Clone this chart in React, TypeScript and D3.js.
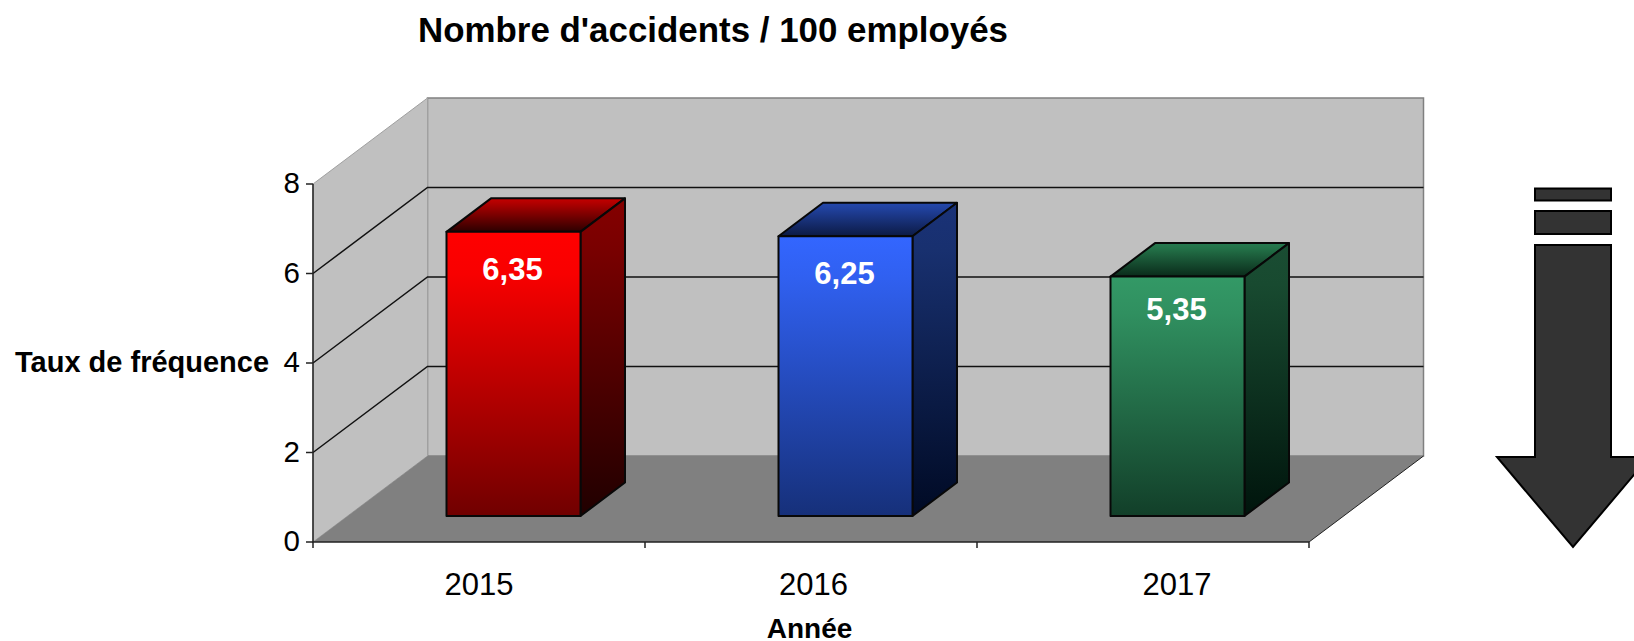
import React from "react";
import * as d3 from "d3";

const years = ["2015", "2016", "2017"];
const values = [6.35, 6.25, 5.35];
const valueLabels = ["6,35", "6,25", "5,35"];
const yTicks = [0, 2, 4, 6, 8];
const yearLabelShift = [0, 2.5, 34];
const labelDrop = [48, 48, 43];
const palettes = [
  { id: "r", face: ["#ff0000", "#f80000", "#700000"], side: ["#840000", "#7a0000", "#200000"], top: ["#c40000", "#b00000", "#2c0000"] },
  { id: "b", face: ["#3366ff", "#3060f0", "#16307a"], side: ["#1a3278", "#18306f", "#000a24"], top: ["#2448ac", "#2142a0", "#0c1a44"] },
  { id: "g", face: ["#339966", "#309060", "#123f29"], side: ["#1a4d33", "#184a30", "#00140c"], top: ["#267a50", "#237248", "#0a2a1a"] },
];

const W = 1634, H = 641;
const FONT = "'Liberation Sans', Arial, sans-serif";
const x0 = 313, x1 = 1309, y0 = 542, y8 = 184;
const DX = 114.5, DY = 86;
const y = d3.scaleLinear().domain([0, 8]).range([y0, y8]);
const x = d3.scaleBand<string>().domain(years).range([x0, x1]);
const barShiftX = 34.5, barShiftY = 26;
const barDepthX = 44.5, barDepthY = 33.5;
const barW = 134;

function grad(id: string, c: string[]) {
  return (
    <linearGradient id={id} x1="0" y1="0" x2="0" y2="1" key={id}>
      <stop offset="0" stopColor={c[0]} />
      <stop offset="0.15" stopColor={c[1]} />
      <stop offset="1" stopColor={c[2]} />
    </linearGradient>
  );
}

export default function App() {
  const line = d3.line<[number, number]>();
  const poly = (p: [number, number][]) => line(p) + "Z";
  return (
    <svg width={W} height={H} style={{ position: "absolute", left: 0, top: 0, display: "block" }} fontFamily={FONT}>
      <defs>
        {palettes.flatMap((p) => [grad(p.id + "f", p.face), grad(p.id + "s", p.side), grad(p.id + "t", p.top)])}
      </defs>
      <rect width={W} height={H} fill="#fff" />
      <text x={713} y={42} textAnchor="middle" fontSize={34.9} fontWeight="bold" fill="#000">Nombre d'accidents / 100 employés</text>

      {/* walls */}
      <path d={poly([[x0 + DX, y(8) - DY], [x1 + DX, y(8) - DY], [x1 + DX, y0 - DY], [x0 + DX, y0 - DY]])} fill="#c0c0c0" stroke="#808080" strokeWidth={1.5} />
      <path d={poly([[x0, y(8)], [x0 + DX, y(8) - DY], [x0 + DX, y0 - DY], [x0, y0]])} fill="#c0c0c0" stroke="#a0a0a0" strokeWidth={1} />
      <path d={poly([[x0, y0], [x1, y0], [x1 + DX, y0 - DY], [x0 + DX, y0 - DY]])} fill="#808080" />

      {/* grid */}
      {yTicks.filter((t) => t > 0 && t < 8).map((t) => (
        <path key={t} d={line([[x0, y(t)], [x0 + DX, y(t) - DY], [x1 + DX, y(t) - DY]])!} fill="none" stroke="#111" strokeWidth={1.5} />
      ))}

      {/* bars */}
      {values.map((v, i) => {
        const p = palettes[i];
        const fx = x(years[i])! + x.bandwidth() / 2 + barShiftX - barW / 2;
        const fb = y0 - barShiftY;
        const ft = y(v) - barShiftY;
        const dx = barDepthX, dy = barDepthY;
        return (
          <g key={years[i]} stroke="#080808" strokeWidth={2} strokeLinejoin="round">
            <path d={poly([[fx, ft], [fx + barW, ft], [fx + barW + dx, ft - dy], [fx + dx, ft - dy]])} fill={`url(#${p.id}t)`} />
            <path d={poly([[fx + barW, ft], [fx + barW + dx, ft - dy], [fx + barW + dx, fb - dy], [fx + barW, fb]])} fill={`url(#${p.id}s)`} />
            <rect x={fx} y={ft} width={barW} height={fb - ft} fill={`url(#${p.id}f)`} />
            <text x={fx + barW / 2 - 1} y={ft + labelDrop[i]} textAnchor="middle" fontSize={31} fontWeight="bold" fill="#fff" stroke="none">{valueLabels[i]}</text>
          </g>
        );
      })}

      {/* axes */}
      <path d={line([[x0, y8], [x0, y0], [x1, y0]])!} fill="none" stroke="#222" strokeWidth={1.5} />
      <path d={line([[x1, y0], [x1 + DX, y0 - DY]])!} fill="none" stroke="#222" strokeWidth={1} />
      {yTicks.map((t) => (
        <g key={t}>
          <path d={line([[x0 - 7, y(t)], [x0, y(t)]])!} stroke="#222" strokeWidth={1.5} />
          <text x={300} y={y(t) + 9} textAnchor="end" fontSize={29.5} fill="#000">{t}</text>
        </g>
      ))}
      {[...years.map((c) => x(c)!), x1].map((tx, i) => (
        <path key={i} d={line([[tx, y0], [tx, y0 + 6]])!} stroke="#222" strokeWidth={1.5} />
      ))}
      {years.map((c, i) => (
        <text key={c} x={x(c)! + x.bandwidth() / 2 + yearLabelShift[i]} y={595} textAnchor="middle" fontSize={31} fill="#000">{c}</text>
      ))}
      <text x={15} y={372} fontSize={29} fontWeight="bold" fill="#000">Taux de fréquence</text>
      <text x={809.5} y={638} textAnchor="middle" fontSize={28} fontWeight="bold" fill="#000">Année</text>

      {/* arrow */}
      <g fill="#333" stroke="#000" strokeWidth={2}>
        <rect x={1535} y={188.5} width={76} height={12} />
        <rect x={1535} y={211} width={76} height={23} />
        <path d={poly([[1535, 245], [1611, 245], [1611, 457], [1649, 457], [1573, 547], [1497, 457], [1535, 457]])} />
      </g>
    </svg>
  );
}
